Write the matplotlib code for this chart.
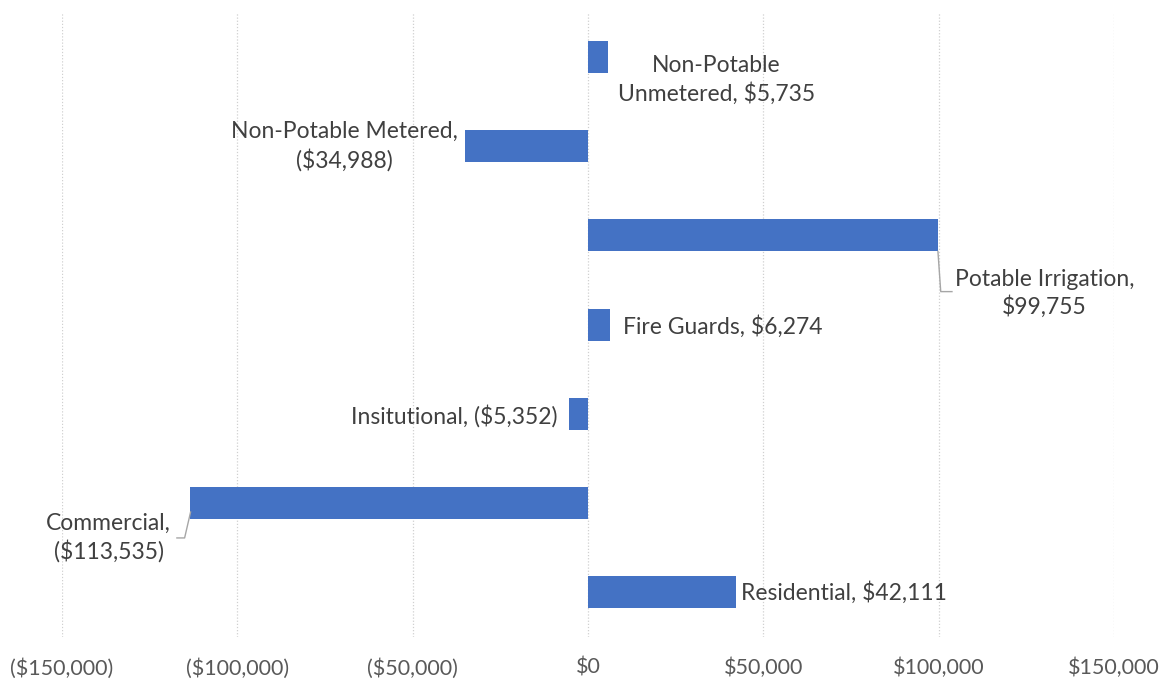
import matplotlib.pyplot as plt
from matplotlib.ticker import FuncFormatter

names = ['Non-Potable Unmetered', 'Non-Potable Metered', 'Potable Irrigation',
         'Fire Guards', 'Insitutional', 'Commercial', 'Residential']
values = [5735, -34988, 99755, 6274, -5352, -113535, 42111]
ticks = [-150000, -100000, -50000, 0, 50000, 100000, 150000]

plt.rcParams['font.family'] = ['Lato', 'DejaVu Sans']

def money(v):
    s = '${:,.0f}'.format(abs(v))
    return '({})'.format(s) if v < 0 else s

fig = plt.figure(figsize=(11.63, 6.81), dpi=100)
ax = fig.add_axes([0.0533, 0.0646, 0.9047, 0.9174])

y = list(range(len(values)))
ax.barh(y, values, height=0.36, color='#4472C4', zorder=3)
ax.set_ylim(6.5, -0.5)
ax.set_xlim(-150000, 150000)
ax.set_xticks(ticks)
ax.xaxis.set_major_formatter(FuncFormatter(lambda v, p: money(v)))
ax.set_yticks([])
ax.grid(axis='x', color='#D0D0D0', linestyle=(0, (1, 1.5)), linewidth=0.9, zorder=0)
for s in ax.spines.values():
    s.set_visible(False)
ax.tick_params(axis='x', length=0, pad=15, labelsize=15.5, labelcolor='#595959')

txt = dict(fontsize=16.5, color='#404040', va='center', linespacing=1.32)

# label placement next to each bar
ax.text(36500, 0.26, 'Non-Potable\nUnmetered, ' + money(values[0]), ha='center', **txt)
ax.text(-69600, 1.0, 'Non-Potable Metered,\n' + money(values[1]), ha='center', **txt)
ax.text(130100, 2.65, 'Potable Irrigation,\n' + money(values[2]), ha='center', **txt)
ax.text(values[3] + 3700, 3.02, 'Fire Guards, ' + money(values[3]), ha='left', **txt)
ax.text(values[4] - 3500, 4.02, 'Insitutional, ' + money(values[4]), ha='right', **txt)
ax.text(-136700, 5.39, 'Commercial,\n' + money(values[5]), ha='center', **txt)
ax.text(values[6] + 1500, 6.0, 'Residential, ' + money(values[6]), ha='left', **txt)

# leader lines
ax.plot([values[2], values[2] + 800, values[2] + 4000], [2.18, 2.63, 2.63],
        color='#A6A6A6', linewidth=1, zorder=4)
ax.plot([values[5] + 200, values[5] - 1500, values[5] - 3700], [5.1, 5.39, 5.39],
        color='#A6A6A6', linewidth=1, zorder=4)

fig.savefig('out.png', dpi=100)
